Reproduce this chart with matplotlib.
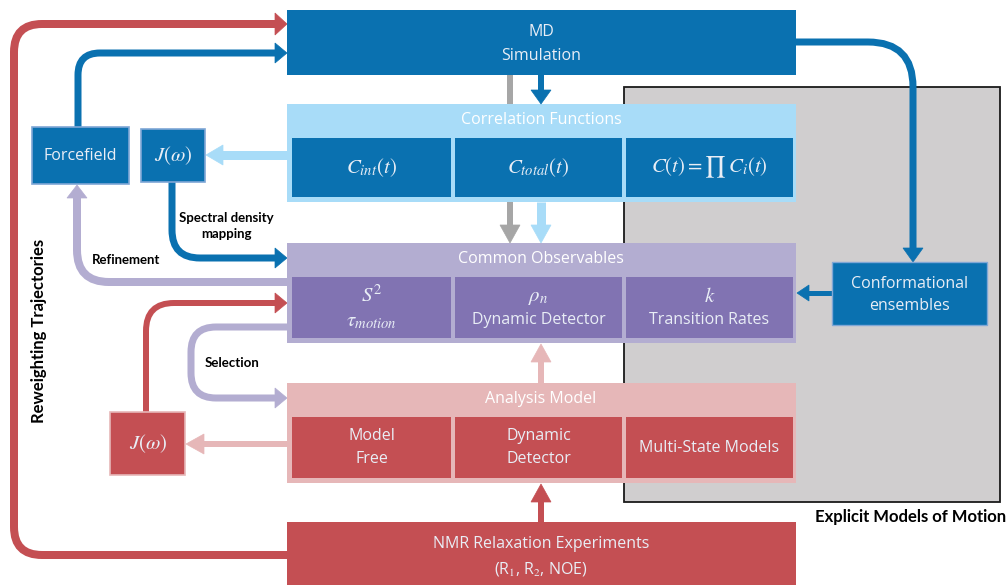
import matplotlib
matplotlib.use("Agg")
import matplotlib.pyplot as plt
import numpy as np
from matplotlib.path import Path
from matplotlib.patches import Rectangle, PathPatch, Polygon

plt.rcParams['font.family'] = ['Open Sans', 'DejaVu Sans']
plt.rcParams['mathtext.fontset'] = 'stix'

# ---- COLOURS ----
BLUE = "#0A71B0"
LBLUE = "#A8DCF8"
LAV = "#B3ADD1"
PURPLE = "#8173B2"
PINK = "#E6B7B8"
RED = "#C44F53"
GRAY = "#D0CECF"
GARROW = "#A6A6A6"
TXT = "#E9EEF6"

# ---- TEXT ----
group_titles = ["Correlation Functions", "Common Observables", "Analysis Model"]
cf_cells = [(r"$C_{int}(t)$", None), (r"$C_{total}(t)$", None),
            (r"$C(t) = \prod\, C_i(t)$", None)]
co_cells = [(r"$S^2$", r"$\tau_{motion}$"),
            (r"$\rho_n$", "Dynamic Detector"),
            (r"$k$", "Transition Rates")]
am_cells = [("Model\nFree", None), ("Dynamic\nDetector", None), ("Multi-State Models", None)]

# ---- LAYOUT (pixels, y down) ----
COL_X = [292, 455, 626]
COL_W = [159, 167, 167]
groups = [  # (top, bottom, outer colour, inner colour, cells)
    (104, 202, LBLUE, BLUE, cf_cells),
    (243, 343, LAV, PURPLE, co_cells),
    (383, 483, PINK, RED, am_cells),
]

fig = plt.figure(figsize=(10.08, 5.85), dpi=100)
ax = fig.add_axes([0, 0, 1, 1])
ax.set_xlim(0, 1008)
ax.set_ylim(585, 0)
ax.axis("off")

PX = 0.72  # points per pixel


def box(x0, y0, x1, y1, fc, ec=None, lw=0, z=2):
    ax.add_patch(Rectangle((x0, y0), x1 - x0, y1 - y0, fc=fc,
                           ec=ec if ec else fc, lw=lw, zorder=z))


def route(pts, color, r=25, lw=7, head=(13, 20), z=1):
    pts = [np.array(p, float) for p in pts]
    tip = pts[-1]
    d = tip - pts[-2]
    d /= np.linalg.norm(d)
    end = tip - d * head[0]
    verts = [pts[0]]
    codes = [Path.MOVETO]
    for i in range(1, len(pts) - 1):
        p, c, n = pts[i - 1], pts[i], pts[i + 1]
        d1 = (c - p) / np.linalg.norm(c - p)
        d2 = (n - c) / np.linalg.norm(n - c)
        verts += [c - d1 * r, c, c + d2 * r]
        codes += [Path.LINETO, Path.CURVE3, Path.CURVE3]
    verts.append(end + d * 1)
    codes.append(Path.LINETO)
    ax.add_patch(PathPatch(Path(verts, codes), fill=False, ec=color,
                           lw=lw * PX, capstyle="butt", joinstyle="miter", zorder=z))
    perp = np.array([-d[1], d[0]])
    ax.add_patch(Polygon([tip, end + perp * head[1] / 2, end - perp * head[1] / 2],
                         closed=True, fc=color, ec=color, lw=0.5, zorder=z))


# gray explicit-models panel
box(624, 87, 1000, 502, GRAY, ec="#1a1a1a", lw=1.3, z=0)
ax.text(1006, 517, "Explicit Models of Motion", ha="right", va="center",
        fontsize=12, fontweight="bold", color="black", family=["Lato", "DejaVu Sans"])

# gray arrow behind correlation functions
route([(510, 75), (510, 243)], GARROW, lw=6, head=(18, 20), z=1)

# MD simulation
box(287, 10, 796, 75, BLUE, z=3)
ax.text(541, 44, "MD\nSimulation", ha="center", va="center", fontsize=11.5,
        color=TXT, linespacing=1.65, zorder=5)

# grouped boxes
for (top, bot, outer, inner, cells), title in zip(groups, group_titles):
    box(287, top, 796, bot, outer, z=3)
    ax.text(541, top + 16, title, ha="center", va="center", fontsize=11.5,
            color="white", zorder=5)
    for x, w, (txt, sub) in zip(COL_X, COL_W, cells):
        y0, y1 = top + 34, bot - 5
        box(x, y0, x + w, y1, inner, z=4)
        cx, cy = x + w / 2, (y0 + y1) / 2
        if sub is None:
            fs = 15 if txt.startswith("$") else 11.5
            ax.text(cx, cy, txt, ha="center", va="center", fontsize=fs,
                    color=TXT, linespacing=1.55, zorder=5)
        else:
            ax.text(cx, cy - 11, txt, ha="center", va="center", fontsize=15,
                    color=TXT, zorder=5)
            fs = 15 if sub.startswith("$") else 11.5
            ax.text(cx, cy + 13, sub, ha="center", va="center", fontsize=fs,
                    color=TXT, zorder=5)

# NMR experiments
box(287, 522, 796, 585, RED, z=3)
ax.text(541, 557, "NMR Relaxation Experiments\n(R$_1$, R$_2$, NOE)", ha="center",
        va="center", fontsize=11.5, color=TXT, linespacing=1.55, zorder=5)

# side boxes
box(32, 127, 129, 184, BLUE, ec="#7FA7D6", lw=1.2, z=3)
ax.text(80, 156, "Forcefield", ha="center", va="center", fontsize=11.5, color=TXT, zorder=5)
box(141, 129, 205, 182, BLUE, ec="#7FA7D6", lw=1.2, z=3)
ax.text(173, 156, r"$J(\omega)$", ha="center", va="center", fontsize=15, color=TXT, zorder=5)
box(110, 412, 185, 475, RED, ec="#E6B7B8", lw=1.2, z=3)
ax.text(148, 444, r"$J(\omega)$", ha="center", va="center", fontsize=15, color=TXT, zorder=5)
box(832, 262, 987, 325, BLUE, ec="#7FA7D6", lw=1.0, z=3)
ax.text(910, 295, "Conformational\nensembles", ha="center", va="center", fontsize=11.5,
        color=TXT, linespacing=1.55, zorder=5)

# arrows
route([(287, 555), (14, 555), (14, 24), (287, 24)], RED, r=28, lw=8, head=(12, 22))
route([(78, 127), (78, 53), (287, 53)], BLUE, r=22, lw=7, head=(12, 20))
route([(287, 155), (206, 155)], LBLUE, lw=9, head=(17, 20))
route([(172, 182), (172, 258), (287, 258)], BLUE, r=28, lw=7, head=(12, 20))
route([(287, 282), (77, 282), (77, 185)], LAV, r=32, lw=8, head=(13, 20))
route([(146, 412), (146, 303), (287, 303)], RED, r=28, lw=6, head=(12, 20))
route([(287, 327), (191, 327), (191, 398), (287, 398)], LAV, r=25, lw=7, head=(12, 20))
route([(287, 444), (186, 444)], PINK, lw=6, head=(18, 20))
route([(541, 75), (541, 104)], BLUE, lw=6, head=(14, 20), z=4)
route([(541, 202), (541, 243)], LBLUE, lw=9, head=(18, 20))
route([(541, 383), (541, 344)], PINK, lw=6, head=(18, 20))
route([(541, 522), (541, 484)], RED, lw=6, head=(18, 20))
route([(796, 42), (913, 42), (913, 262)], BLUE, r=45, lw=7, head=(14, 20))
route([(832, 293), (797, 293)], BLUE, lw=5, head=(12, 16))

# arrow labels
lbl = dict(fontsize=9.5, fontweight="bold", color="black", family=["Lato", "DejaVu Sans"])
ax.text(226, 226, "Spectral density\nmapping", ha="center", va="center", linespacing=1.3, **lbl)
ax.text(126, 260, "Refinement", ha="center", va="center", **lbl)
ax.text(232, 363, "Selection", ha="center", va="center", **lbl)
ax.text(39, 331, "Reweighting Trajectories", ha="center", va="center", rotation=90,
        fontsize=12, fontweight="bold", color="black", family=["Lato", "DejaVu Sans"])

fig.savefig("out.png", dpi=100)
